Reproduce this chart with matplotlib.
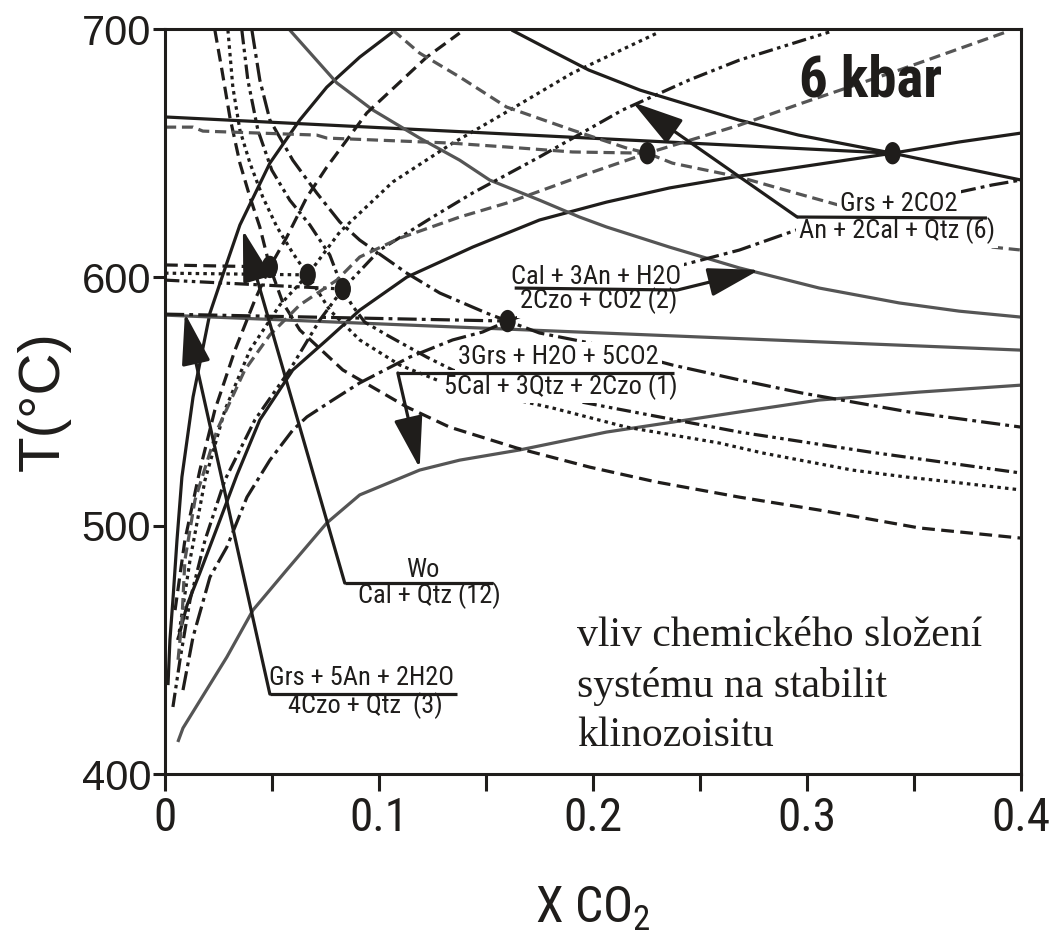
import numpy as np
import matplotlib
matplotlib.use("Agg")
import matplotlib.pyplot as plt
from matplotlib import font_manager as fm
from matplotlib.patches import Ellipse

# ---------------- data: X(CO2) and T(°C) along each reaction curve ----------------
# solid black set, invariant point at (0.34, 650)
sol_h_x = [0.0, 0.340]
sol_h_t = [664.6, 650.0]
sol_desc_x = [0.162, 0.180, 0.198, 0.222, 0.245, 0.268, 0.296, 0.340, 0.371, 0.400]
sol_desc_t = [699.6, 691.5, 683.5, 675.4, 669.4, 663.4, 657.3, 650.0, 644.4, 639.2]
sol_asc_x = [0.006, 0.0103, 0.0163, 0.0257, 0.0336, 0.0443, 0.0597, 0.0756, 0.091, 0.113,
             0.1438, 0.175, 0.2063, 0.2357, 0.2684, 0.3057, 0.340, 0.371, 0.400]
sol_asc_t = [454.0, 468.0, 481.0, 502.3, 520.4, 542.6, 562.7, 574.8, 586.8, 600.1,
             612.2, 623.1, 630.3, 636.0, 640.8, 645.6, 650.0, 654.5, 658.1]
# Wo = Cal + Qtz (12)
wo_x = [0.0014, 0.0023, 0.0037, 0.0056, 0.0079, 0.0131, 0.021, 0.0289, 0.035, 0.049,
        0.063, 0.0756, 0.091, 0.1064]
wo_t = [435.8, 454.0, 470.1, 494.2, 519.6, 551.8, 585.6, 605.8, 621.1, 646.0,
        663.4, 676.6, 688.7, 698.8]

# grey solid curves
gr_a_x = [0.0583, 0.0803, 0.0971, 0.119, 0.1377, 0.1517, 0.175, 0.1937, 0.2063, 0.2357,
          0.2684, 0.3057, 0.3431, 0.3711, 0.400]
gr_a_t = [699.6, 678.3, 667.4, 656.1, 647.2, 639.2, 631.1, 624.3, 620.3, 612.2,
          603.8, 595.7, 589.7, 586.4, 584.0]
gr_b_x = [0.0, 0.400]
gr_b_t = [584.8, 570.7]
gr_c_x = [0.006, 0.0084, 0.0289, 0.0411, 0.0569, 0.0756, 0.091, 0.119, 0.1377, 0.1657,
          0.2063, 0.2371, 0.2684, 0.3057, 0.3524, 0.400]
gr_c_t = [412.9, 418.5, 447.1, 466.0, 482.2, 501.1, 512.4, 522.4, 526.4, 530.5,
          537.7, 541.7, 545.8, 550.6, 553.8, 556.6]

# dashed black set, invariant point at (0.049, 604.2)
das_h_x = [0.0, 0.049]
das_h_t = [605.0, 604.2]
das_desc_x = [0.0233, 0.0266, 0.0303, 0.035, 0.0397, 0.0443, 0.049, 0.0551, 0.063, 0.0831,
              0.113, 0.133, 0.1643, 0.1984, 0.2296, 0.2684, 0.3057, 0.3524, 0.400]
das_desc_t = [699.6, 683.5, 664.6, 646.0, 632.3, 620.3, 604.2, 589.7, 578.8, 562.7,
              547.8, 539.7, 531.3, 523.6, 517.6, 511.5, 506.3, 499.1, 495.0]
das_asc_x = [0.0047, 0.0093, 0.0163, 0.0233, 0.0327, 0.042, 0.049, 0.0569, 0.0663, 0.0756,
             0.0943, 0.1223, 0.1377]
das_asc_t = [466.0, 494.2, 522.4, 546.6, 570.7, 590.9, 604.2, 616.2, 632.3, 644.4,
             666.2, 688.7, 698.4]

# dotted black set, invariant point at (0.0667, 601)
dot_h_x = [0.0, 0.0667]
dot_h_t = [601.7, 601.0]
dot_desc_x = [0.0294, 0.0317, 0.035, 0.0397, 0.0457, 0.0523, 0.0597, 0.0667, 0.077, 0.091,
              0.1097, 0.133, 0.1811, 0.2156, 0.259, 0.2791, 0.3211, 0.3463, 0.3678, 0.400]
dot_desc_t = [699.6, 676.6, 659.3, 646.0, 632.3, 620.3, 609.8, 601.0, 586.8, 574.8,
              564.7, 556.6, 547.4, 539.7, 533.3, 529.3, 522.4, 519.6, 517.6, 514.4]
dot_asc_x = [0.0061, 0.0117, 0.0187, 0.028, 0.0397, 0.0537, 0.0667, 0.0817, 0.1064, 0.133,
             0.1596, 0.1904, 0.231]
dot_asc_t = [454.0, 486.2, 518.4, 546.6, 570.7, 588.9, 601.0, 618.3, 638.4, 653.3,
             666.6, 682.3, 698.8]

# dash-dot-dot black set, invariant point at (0.0831, 595.3)
ddd_h_x = [0.0, 0.0831]
ddd_h_t = [598.9, 595.3]
ddd_desc_x = [0.0359, 0.0387, 0.0434, 0.0499, 0.0583, 0.0677, 0.077, 0.0831, 0.0873, 0.0933,
              0.1036, 0.1223, 0.1344, 0.1657, 0.2091, 0.2684, 0.329, 0.400]
ddd_desc_t = [699.6, 679.5, 659.3, 643.2, 631.1, 621.1, 609.0, 595.3, 588.9, 582.0,
              576.8, 567.9, 562.7, 554.6, 547.4, 537.7, 529.7, 521.2]
ddd_asc_x = [0.0037, 0.007, 0.0117, 0.0187, 0.028, 0.042, 0.0583, 0.0723, 0.0831, 0.1003,
             0.1251, 0.1438, 0.175, 0.2138, 0.245, 0.2684, 0.3104]
ddd_asc_t = [427.0, 445.9, 470.1, 494.2, 518.4, 542.6, 562.7, 582.8, 595.3, 611.0,
             624.3, 634.0, 648.5, 667.4, 679.5, 687.5, 698.8]

# long dash-dot black set, invariant point at (0.16, 582.4)
ldd_h_x = [0.0, 0.1601]
ldd_h_t = [585.2, 582.4]
ldd_desc_x = [0.0406, 0.0443, 0.049, 0.0597, 0.0709, 0.0817, 0.091, 0.113, 0.1284, 0.1503,
              0.1601, 0.175, 0.1984, 0.2371, 0.2684, 0.2978, 0.3477, 0.400]
ldd_desc_t = [699.6, 679.5, 663.4, 647.2, 634.0, 622.3, 615.0, 601.7, 593.7, 585.6,
              582.4, 577.6, 573.6, 564.7, 558.7, 553.4, 545.8, 539.7]
ldd_asc_x = [0.0084, 0.0131, 0.021, 0.0289, 0.0383, 0.049, 0.0597, 0.0663, 0.0784, 0.091,
             0.1144, 0.1344, 0.1484, 0.1601, 0.1844, 0.2124, 0.2418, 0.2684, 0.2978, 0.3431,
             0.3865, 0.400]
ldd_asc_t = [433.8, 455.2, 479.3, 491.4, 511.5, 526.4, 538.5, 543.8, 550.6, 557.5,
             567.9, 574.8, 578.0, 582.4, 590.1, 597.7, 605.0, 611.0, 619.9, 629.1,
             637.2, 639.2]

# grey dashed set, invariant point at (0.2254, 650)
gd_h_x = [0.0, 0.0131, 0.0177, 0.0709, 0.0756, 0.133, 0.1596, 0.1904, 0.2254]
gd_h_t = [660.5, 660.5, 658.9, 657.3, 656.1, 654.1, 652.5, 650.5, 650.0]
gd_desc_x = [0.1064, 0.119, 0.1377, 0.1596, 0.1904, 0.2156, 0.2254, 0.2371, 0.2684, 0.2978,
             0.3431, 0.3865, 0.400]
gd_desc_t = [699.6, 690.3, 680.7, 668.6, 659.3, 652.1, 650.0, 646.0, 640.4, 633.2,
             622.3, 612.2, 611.0]
gd_asc_x = [0.0061, 0.0079, 0.0093, 0.014, 0.0243, 0.0373, 0.049, 0.063, 0.0803, 0.091,
            0.1097, 0.1377, 0.1596, 0.1984, 0.2254, 0.2684, 0.2978, 0.3431, 0.393]
gd_asc_t = [446.0, 462.0, 486.2, 510.3, 538.5, 562.7, 576.8, 588.9, 598.9, 608.2,
            615.8, 624.3, 629.9, 642.0, 650.0, 661.3, 670.2, 683.5, 698.8]

# invariant points
inv_x = [0.340, 0.2254, 0.1601, 0.0831, 0.0667, 0.049]
inv_t = [650.0, 650.0, 582.4, 595.3, 601.0, 604.2]

x_ticks = [0, 0.05, 0.1, 0.15, 0.2, 0.25, 0.3, 0.35, 0.4]
x_tick_labels = ["0", "", "0.1", "", "0.2", "", "0.3", "", "0.4"]
y_ticks = [400, 500, 600, 700]
y_tick_labels = ["400", "500", "600", "700"]


# ---------------- fonts: use a condensed sans when one is installed ----------------
def condensed_font(bold=False):
    order = ["Liberation Sans Narrow", "Arial Narrow", "Roboto Condensed",
             "DejaVu Sans", "Noto Sans", "Open Sans", "Lato", "Inter"]
    stretch_rank = {"condensed": 0, "semi-condensed": 1, "extra-condensed": 2,
                    "ultra-condensed": 3}
    best = None
    for f in fm.fontManager.ttflist:
        st = str(f.stretch)
        named = ("Narrow" in f.name) or ("Condensed" in f.name)
        if st not in stretch_rank and not named:
            continue
        if f.style != "normal":
            continue
        w = f.weight if isinstance(f.weight, (int, float)) else fm.weight_dict.get(f.weight, 400)
        if bold != (w >= 600):
            continue
        base = f.name.replace(" Narrow", "").replace(" Condensed", "")
        rank = order.index(f.name) if f.name in order else (
            order.index(base) if base in order else len(order))
        key = (stretch_rank.get(st, 0), rank)
        if best is None or key < best[0]:
            best = (key, f.fname)
    if best is None:
        return fm.FontProperties(family=["Liberation Sans", "DejaVu Sans"],
                                 weight="bold" if bold else "normal")
    return fm.FontProperties(fname=best[1])


NARROW = condensed_font()
NARROW_BOLD = condensed_font(bold=True)
SANS = ["Liberation Sans", "DejaVu Sans"]
SERIF = ["Liberation Serif", "DejaVu Serif"]

# ---------------- drawing ----------------
BLACK = "#1f1d1b"
GREY = "#555555"
LW = 2.3

fig = plt.figure(figsize=(10.53, 9.43), dpi=100)
ax = fig.add_axes([0.1567, 0.1792, 0.8129, 0.7900])
ax.set_xlim(0, 0.4)
ax.set_ylim(400, 700)

styles = {
    "solid": dict(color=BLACK, ls="-"),
    "grey": dict(color=GREY, ls="-"),
    "dashed": dict(color=BLACK, ls=(0, (4.0, 2.0))),
    "dotted": dict(color=BLACK, ls=(0, (1.1, 1.3))),
    "ddd": dict(color=BLACK, ls=(0, (4.5, 1.4, 1.1, 1.4, 1.1, 1.4))),
    "ldd": dict(color=BLACK, ls=(0, (6.0, 1.6, 1.2, 1.6))),
    "gdash": dict(color=GREY, ls=(0, (3.5, 1.8))),
}

curves = [
    (sol_h_x, sol_h_t, "solid"), (sol_desc_x, sol_desc_t, "solid"),
    (sol_asc_x, sol_asc_t, "solid"), (wo_x, wo_t, "solid"),
    (gr_a_x, gr_a_t, "grey"), (gr_b_x, gr_b_t, "grey"), (gr_c_x, gr_c_t, "grey"),
    (das_h_x, das_h_t, "dashed"), (das_desc_x, das_desc_t, "dashed"), (das_asc_x, das_asc_t, "dashed"),
    (dot_h_x, dot_h_t, "dotted"), (dot_desc_x, dot_desc_t, "dotted"), (dot_asc_x, dot_asc_t, "dotted"),
    (ddd_h_x, ddd_h_t, "ddd"), (ddd_desc_x, ddd_desc_t, "ddd"), (ddd_asc_x, ddd_asc_t, "ddd"),
    (ldd_h_x, ldd_h_t, "ldd"), (ldd_desc_x, ldd_desc_t, "ldd"), (ldd_asc_x, ldd_asc_t, "ldd"),
    (gd_h_x, gd_h_t, "gdash"), (gd_desc_x, gd_desc_t, "gdash"), (gd_asc_x, gd_asc_t, "gdash"),
]
for xs, ts, st in curves:
    ax.plot(xs, ts, lw=LW, solid_capstyle="butt", dash_capstyle="butt", zorder=2, **styles[st])

for xi, ti in zip(inv_x, inv_t):
    ax.add_patch(Ellipse((xi, ti), width=0.0076, height=9.0, facecolor=BLACK,
                         edgecolor="none", zorder=6))

# reaction labels: upper text, lower text, their centres, underline, leader tip,
# and whether the leader starts at the right end of the underline
labels = [
    ("Grs + 2CO2", "An + 2Cal + Qtz (6)", (0.343, 629.5), (0.3421, 618.7),
     ((0.2954, 624.3), (0.3841, 623.9)), (0.2184, 670.6), 0),
    ("Cal + 3An + H2O", "2Czo + CO2 (2)", (0.2012, 600.1), (0.2026, 590.5),
     ((0.1634, 595.7), (0.2394, 594.9)), (0.2777, 603.0), 1),
    ("3Grs + H2O + 5CO2", "5Cal + 3Qtz + 2Czo (1)", (0.1839, 567.9), (0.1848, 556.2),
     ((0.1088, 561.5), (0.238, 561.5)), (0.119, 523.2), 0),
    ("Wo", "Cal + Qtz (12)", (0.1204, 482.2), (0.1237, 471.7),
     ((0.084, 476.9), (0.1531, 476.9)), (0.0364, 619.1), 0),
    ("Grs + 5An + 2H2O", "4Czo + Qtz  (3)", (0.0919, 438.7), (0.0938, 427.4),
     ((0.049, 432.2), (0.1363, 432.2)), (0.0093, 585.6), 0),
]
box = dict(boxstyle="square,pad=0.12", fc="white", ec="none")
for top, bot, ptop, pbot, (u0, u1), tip, from_end in labels:
    ax.text(*ptop, top, ha="center", va="center", fontproperties=NARROW, fontsize=19,
            color=BLACK, bbox=box, zorder=4)
    ax.text(*pbot, bot, ha="center", va="center", fontproperties=NARROW, fontsize=19,
            color=BLACK, bbox=box, zorder=4)
    ax.plot([u0[0], u1[0]], [u0[1], u1[1]], color=BLACK, lw=LW, zorder=5,
            solid_capstyle="butt")
    start = u1 if from_end else u0
    ax.annotate("", xy=tip, xytext=start, zorder=5,
                arrowprops=dict(arrowstyle="-|>,head_length=1.6,head_width=0.45",
                                mutation_scale=20, lw=LW, color=BLACK,
                                shrinkA=0, shrinkB=0))

ax.text(0.3295, 679.0, "6 kbar", ha="center", va="center", fontproperties=NARROW_BOLD,
        fontsize=41, color=BLACK, zorder=3)
for line, base_t in zip(["vliv chemického složení", "systému na stabilit", "klinozoisitu"],
                        [451.5, 431.0, 411.3]):
    ax.text(0.1927, base_t, line, ha="left", va="baseline", fontsize=30, family=SERIF,
            color=BLACK, zorder=3)

# axes frame and ticks
for sp in ax.spines.values():
    sp.set_linewidth(2.2)
    sp.set_color(BLACK)
ax.set_xticks(x_ticks)
ax.set_xticklabels(x_tick_labels, fontproperties=NARROW, fontsize=34)
ax.set_yticks(y_ticks)
ax.set_yticklabels(y_tick_labels, family=SANS, fontsize=30)
ax.tick_params(axis="x", direction="out", length=12, width=2.2, pad=4, colors=BLACK)
ax.tick_params(axis="y", direction="out", length=9, width=2.2, pad=1, colors=BLACK)
ax.set_xlabel(r"X CO$_\mathregular{2}$", fontproperties=NARROW, fontsize=36,
              labelpad=32, color=BLACK)
ax.set_ylabel("T(°C)", family=SANS, fontsize=42, labelpad=8, color=BLACK)

fig.savefig("out.png", dpi=100)
